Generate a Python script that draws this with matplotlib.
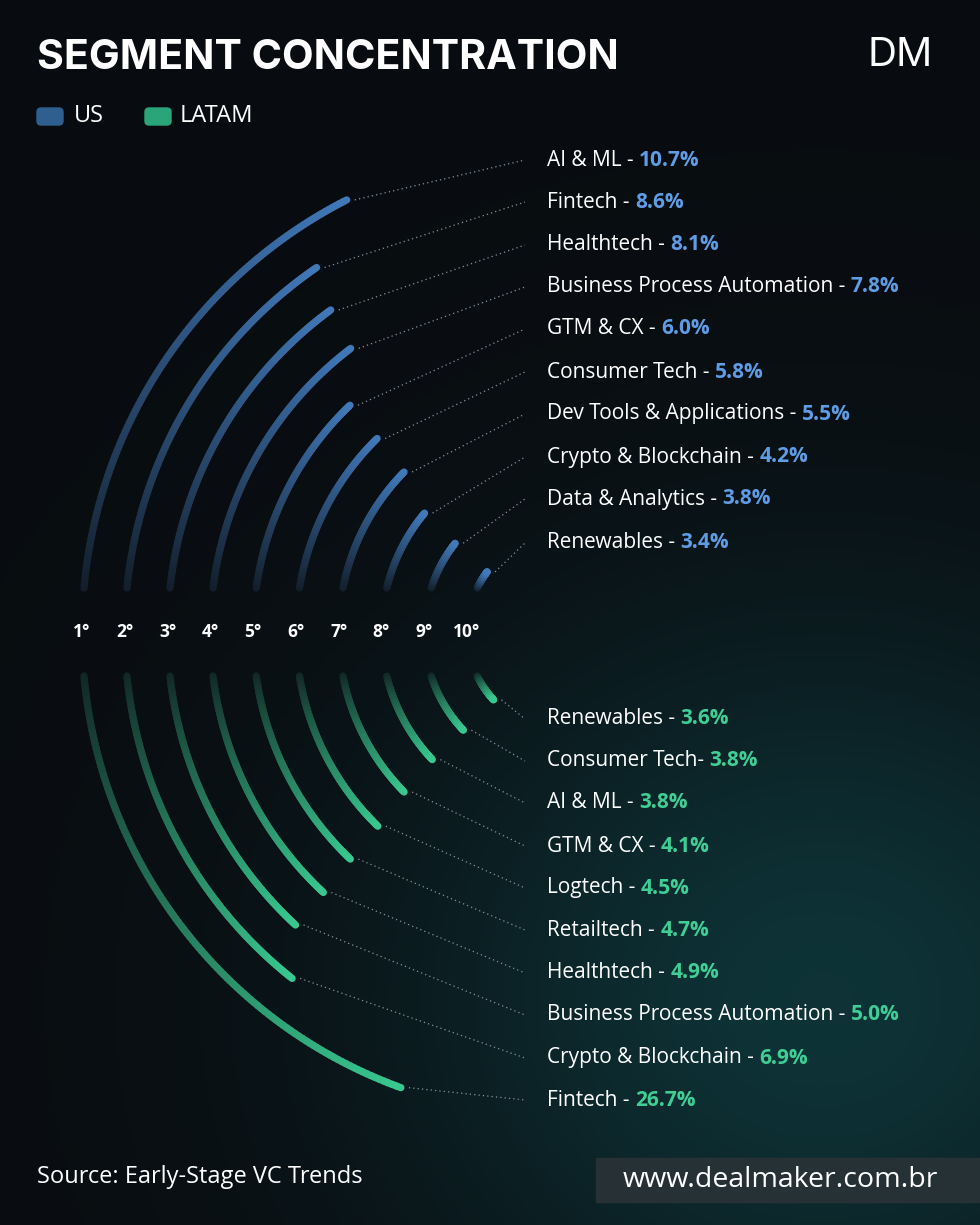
import numpy as np
import matplotlib
matplotlib.use("Agg")
import matplotlib.pyplot as plt
from matplotlib.collections import LineCollection
from matplotlib.patches import FancyBboxPatch, Rectangle

ranks = ["1°", "2°", "3°", "4°", "5°", "6°", "7°", "8°", "9°", "10°"]
us_cats = ["AI & ML", "Fintech", "Healthtech", "Business Process Automation", "GTM & CX",
           "Consumer Tech", "Dev Tools & Applications", "Crypto & Blockchain",
           "Data & Analytics", "Renewables"]
us_vals = [10.7, 8.6, 8.1, 7.8, 6.0, 5.8, 5.5, 4.2, 3.8, 3.4]
latam_cats = ["Fintech", "Crypto & Blockchain", "Business Process Automation", "Healthtech",
              "Retailtech", "Logtech", "GTM & CX", "AI & ML", "Consumer Tech", "Renewables"]
latam_vals = [26.7, 6.9, 5.0, 4.9, 4.7, 4.5, 4.1, 3.8, 3.8, 3.6]

W, H = 980, 1225
fig = plt.figure(figsize=(9.8, 12.25), dpi=100)
ax = fig.add_axes([0, 0, 1, 1])
ax.set_xlim(0, W); ax.set_ylim(H, 0); ax.axis("off")

# background
yy, xx = np.mgrid[0:H:4, 0:W:4]
base = np.zeros(yy.shape + (3,))
base[..., 0] = 0.035; base[..., 1] = 0.05; base[..., 2] = 0.065
glow = np.exp(-(((xx - 820) / 420.0) ** 2 + ((yy - 1000) / 380.0) ** 2))
base[..., 0] += 0.02 * glow; base[..., 1] += 0.15 * glow; base[..., 2] += 0.15 * glow
ax.imshow(np.clip(base, 0, 1), extent=[0, W, H, 0], aspect="auto", zorder=0)

cx, cy = 567, 632
radii = np.linspace(485, 100, 10)
blue, green = np.array([0.25, 0.47, 0.72]), np.array([0.22, 0.78, 0.56])
bg = np.array([0.05, 0.07, 0.09])
font = "Open Sans"
FS = 15

def sweep_us(v): return 24.9 + 3.56 * v
def sweep_la(v): return 25.3 + 13.6 * np.log(v)

def draw_arc(r, sweep, col, up):
    gap = np.degrees(np.arcsin(44.0 / r))
    t = np.radians(np.linspace(gap, sweep, 120))
    x = cx - r * np.cos(t)
    y = cy - r * np.sin(t) if up else cy + r * np.sin(t)
    pts = np.column_stack([x, y]).reshape(-1, 1, 2)
    segs = np.concatenate([pts[:-1], pts[1:]], axis=1)
    f = 0.12 + 0.88 * np.linspace(0, 1, len(segs)) ** 0.9
    cols = [tuple(bg * (1 - k) + col * k) for k in f]
    ax.add_collection(LineCollection(segs, colors=cols, linewidths=5.2, capstyle="round", zorder=3))
    return x[-1], y[-1]

fig.canvas.draw()
rend = fig.canvas.get_renderer()
us_y = [160, 202, 245, 287, 329, 372, 414, 457, 499, 543]
la_y = [719, 761, 803, 846, 888, 930, 973, 1015, 1058, 1100]
for i in range(10):
    ex, ey = draw_arc(radii[i], sweep_us(us_vals[i]), blue, True)
    ax.plot([ex + 8, 525], [ey, us_y[i]], ls=(0, (1, 2.5)), color="#8a949c", lw=0.9, zorder=2)
    t1 = ax.text(547, us_y[i], f"{us_cats[i]} - ", color="white", fontsize=FS, family=font, va="center")
    bb = t1.get_window_extent(renderer=rend)
    ax.text(547 + bb.width, us_y[i], f"{us_vals[i]:.1f}%", color="#5e9de6", fontsize=FS,
            family=font, weight="bold", va="center")
    j = 9 - i
    ex, ey = draw_arc(radii[j], sweep_la(latam_vals[j]), green, False)
    ax.plot([ex + 8, 525], [ey, la_y[i]], ls=(0, (1, 2.5)), color="#8a949c", lw=0.9, zorder=2)
    sep = "- " if latam_cats[j] == "Consumer Tech" else " - "
    t2 = ax.text(547, la_y[i], f"{latam_cats[j]}{sep}", color="white", fontsize=FS, family=font, va="center")
    bb = t2.get_window_extent(renderer=rend)
    ax.text(547 + bb.width, la_y[i], f"{latam_vals[j]:.1f}%", color="#3fcf95", fontsize=FS,
            family=font, weight="bold", va="center")

for i, lab in enumerate(ranks):
    ax.text(cx - radii[i], cy, lab, color="white", fontsize=12.5, weight="bold", family=font,
            ha="center", va="center", zorder=4)

ax.text(37, 58, "SEGMENT CONCENTRATION", color="white", fontsize=29.6, weight="bold",
        family="Inter", va="center")
ax.text(900, 56, "DM", color="white", fontsize=29, family="Inter", ha="center", va="center")
ax.add_patch(FancyBboxPatch((37, 108), 26, 17, boxstyle="round,pad=0,rounding_size=4",
                            color="#2f5f8e"))
ax.text(74, 116, "US", color="white", fontsize=17, family=font, va="center")
ax.add_patch(FancyBboxPatch((145, 108), 26, 17, boxstyle="round,pad=0,rounding_size=4",
                            color="#2aa57a"))
ax.text(180, 116, "LATAM", color="white", fontsize=17, family=font, va="center")

ax.text(37, 1177, "Source: Early-Stage VC Trends", color="white", fontsize=17, family=font, va="center")
ax.add_patch(Rectangle((596, 1158), 384, 44, color="#2b3338", alpha=0.85, zorder=1))
ax.text(780, 1180, "www.dealmaker.com.br", color="white", fontsize=20.5, family=font,
        ha="center", va="center", zorder=2)

fig.savefig("out.png", dpi=100)
